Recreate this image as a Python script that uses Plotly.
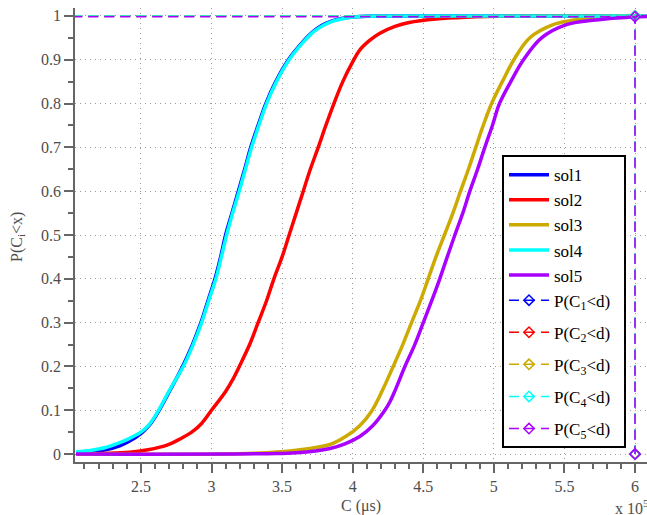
import plotly.graph_objects as go

# x values in units of 10^5 microseconds
sol1_x = [2.04, 2.15, 2.25, 2.35, 2.42, 2.5, 2.56, 2.62, 2.71, 2.795, 2.865, 2.925, 2.975, 3.025, 3.065, 3.10, 3.145, 3.19, 3.235, 3.278, 3.33, 3.385, 3.455, 3.545, 3.645, 3.715, 3.78, 3.85, 3.92, 4.02, 4.3, 6.1]
sol1_y = [0.002, 0.005, 0.01, 0.019, 0.03, 0.047, 0.066, 0.095, 0.148, 0.2, 0.25, 0.3, 0.35, 0.4, 0.45, 0.5, 0.55, 0.6, 0.65, 0.7, 0.75, 0.8, 0.85, 0.9, 0.94, 0.963, 0.978, 0.988, 0.994, 0.998, 1.0, 1.0]

sol2_x = [2.04, 2.42, 2.55, 2.68, 2.78, 2.86, 2.93, 3.0, 3.10, 3.15, 3.20, 3.27, 3.33, 3.39, 3.442, 3.50, 3.55, 3.60, 3.65, 3.70, 3.756, 3.81, 3.867, 3.93, 4.0, 4.05, 4.12, 4.19, 4.30, 4.40, 4.59, 4.8, 5.2, 6.1]
sol2_y = [0.0, 0.004, 0.01, 0.02, 0.035, 0.05, 0.07, 0.1, 0.143, 0.17, 0.202, 0.25, 0.3, 0.35, 0.4, 0.45, 0.5, 0.55, 0.6, 0.65, 0.7, 0.75, 0.8, 0.85, 0.895, 0.922, 0.944, 0.96, 0.976, 0.985, 0.993, 0.997, 1.0, 1.0]

sol3_x = [2.04, 3.3, 3.6, 3.84, 3.95, 4.05, 4.134, 4.21, 4.287, 4.355, 4.417, 4.48, 4.535, 4.59, 4.65, 4.71, 4.764, 4.82, 4.872, 4.925, 4.984, 5.06, 5.142, 5.255, 5.42, 5.56, 5.75, 6.0, 6.1]
sol3_y = [0.0, 0.002, 0.009, 0.022, 0.04, 0.065, 0.098, 0.145, 0.2, 0.25, 0.3, 0.35, 0.4, 0.45, 0.5, 0.55, 0.6, 0.65, 0.7, 0.75, 0.8, 0.85, 0.9, 0.95, 0.98, 0.99, 0.998, 1.0, 1.0]

sol4_x = [2.04, 2.15, 2.25, 2.35, 2.42, 2.5, 2.56, 2.62, 2.71, 2.80, 2.87, 2.93, 2.98, 3.031, 3.07, 3.107, 3.15, 3.196, 3.24, 3.284, 3.335, 3.39, 3.46, 3.55, 3.65, 3.72, 3.79, 3.85, 3.92, 4.03, 4.3, 6.1]
sol4_y = [0.005, 0.009, 0.015, 0.026, 0.036, 0.05, 0.068, 0.097, 0.15, 0.2, 0.25, 0.3, 0.35, 0.4, 0.45, 0.5, 0.55, 0.6, 0.65, 0.7, 0.75, 0.8, 0.85, 0.9, 0.94, 0.963, 0.978, 0.987, 0.993, 0.998, 1.0, 1.0]

sol5_x = [2.04, 3.4, 3.6, 3.84, 3.95, 4.05, 4.14, 4.228, 4.265, 4.30, 4.37, 4.44, 4.50, 4.56, 4.617, 4.67, 4.724, 4.78, 4.83, 4.885, 4.936, 4.99, 5.04, 5.12, 5.21, 5.338, 5.515, 5.70, 5.9, 6.1]
sol5_y = [0.0, 0.001, 0.003, 0.013, 0.024, 0.04, 0.064, 0.1, 0.12, 0.145, 0.2, 0.25, 0.3, 0.35, 0.4, 0.45, 0.5, 0.55, 0.6, 0.65, 0.7, 0.75, 0.8, 0.85, 0.9, 0.95, 0.98, 0.99, 0.996, 0.999]

deadline_d = 6.0
p_start = 1.9
p_values = [1.0, 1.0, 1.0, 1.0, 0.998]

sol_names = ["sol1", "sol2", "sol3", "sol4", "sol5"]
p_names = ["P(C<sub>1</sub>&lt;d)", "P(C<sub>2</sub>&lt;d)", "P(C<sub>3</sub>&lt;d)",
           "P(C<sub>4</sub>&lt;d)", "P(C<sub>5</sub>&lt;d)"]
colors = ["#0000ff", "#ff0000", "#ccaa00", "#00ffff", "#aa00ff"]

xs = [sol1_x, sol2_x, sol3_x, sol4_x, sol5_x]
ys = [sol1_y, sol2_y, sol3_y, sol4_y, sol5_y]

SERIF = "Liberation Serif, Times New Roman, Times, serif"

fig = go.Figure()
for name, x, y, c in zip(sol_names, xs, ys, colors):
    fig.add_trace(go.Scatter(x=x, y=y, mode="lines", name=name, legendgroup="g0",
                             line=dict(color=c, width=3.5, shape="spline", smoothing=1.0)))
for i, (name, p, c) in enumerate(zip(p_names, p_values, colors)):
    fig.add_trace(go.Scatter(x=[p_start, deadline_d, deadline_d], y=[p, p, 0],
                             mode="lines+markers", name=name + "&nbsp;&nbsp;",
                             legendgroup="g%d" % i,
                             line=dict(color=c, width=1.5, dash="10px,6px"),
                             marker=dict(symbol="diamond-open", size=8, color=c,
                                         line=dict(width=1.5, color=c))))

axis_font = dict(family=SERIF, size=16, color="#4d4d4d")
grid = dict(showgrid=True, gridcolor="#9a9a9a", griddash="1px,4px", gridwidth=1)
fig.update_layout(
    width=647, height=515,
    margin=dict(l=75, r=0, t=8, b=53),
    paper_bgcolor="white", plot_bgcolor="white",
    font=dict(family=SERIF, size=16, color="#4d4d4d"),
    showlegend=True,
    legend=dict(x=0.7465, y=0.676, xanchor="left", yanchor="top",
                bgcolor="white", bordercolor="black", borderwidth=2,
                itemwidth=40, tracegroupgap=7,
                font=dict(family=SERIF, size=17, color="black")),
    xaxis=dict(range=[2.033, 6.085], tickmode="linear", tick0=0, dtick=0.5,
               ticks="outside", ticklen=9, tickwidth=1.5, tickcolor="#666",
               showline=True, linecolor="#666", linewidth=1.5,
               zeroline=False, tickfont=axis_font, **grid,
               minor=dict(dtick=0.1, ticks="outside", ticklen=5, tickcolor="#666", showgrid=False)),
    yaxis=dict(range=[-0.018, 1.018], tickmode="linear", tick0=0, dtick=0.1,
               ticks="outside", ticklen=9, tickwidth=1.5, tickcolor="#666",
               showline=True, linecolor="#666", linewidth=1.5,
               zeroline=False, tickfont=axis_font, **grid,
               minor=dict(dtick=0.05, ticks="outside", ticklen=5, tickcolor="#666", showgrid=False)),
    annotations=[
        dict(text="C (μs)", xref="paper", yref="paper", x=0.5, y=0,
             xanchor="center", yanchor="top", yshift=-33, showarrow=False, font=axis_font),
        dict(text="x 10<sup>5</sup>", xref="paper", yref="paper", x=0.9406, y=0,
             xanchor="left", yanchor="top", yshift=-33, showarrow=False, font=axis_font),
        dict(text="P(C<sub>i</sub>&lt;x)", xref="paper", yref="paper", x=-0.0997, y=0.4956,
             xanchor="center", yanchor="middle", textangle=-90, showarrow=False, font=axis_font),
    ],
)

fig.write_html("out.html", config={"displayModeBar": False},
               post_script="document.body.style.margin='0px';document.body.style.overflow='hidden';")
